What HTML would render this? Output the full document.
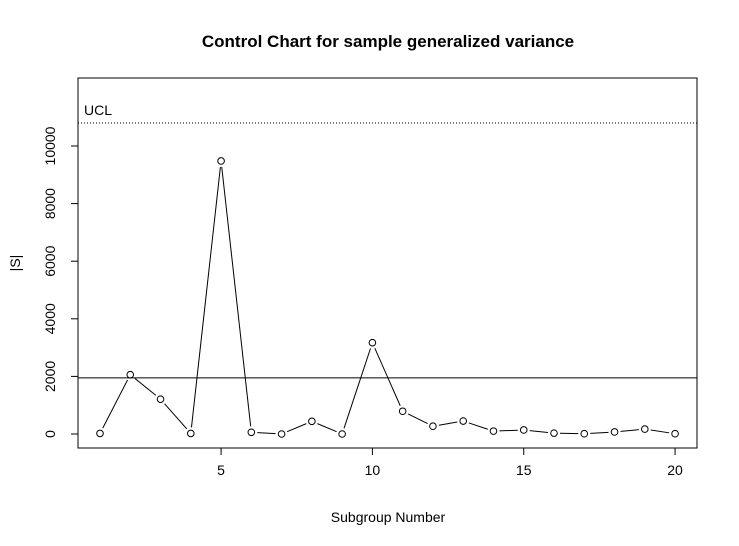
<!DOCTYPE html>
<html><head><meta charset="utf-8"><style>
body{margin:0;background:#fff;}
svg{display:block;font-family:"Liberation Sans",Arial,sans-serif;}
</style></head><body>
<svg id="chart" width="739" height="546" viewBox="0 0 739 546" xmlns="http://www.w3.org/2000/svg">
<rect width="739" height="546" fill="#fff"/>
<text x="388" y="47" text-anchor="middle" font-size="17" font-weight="bold">Control Chart for sample generalized variance</text>
<text x="388" y="522" text-anchor="middle" font-size="14">Subgroup Number</text>
<text transform="translate(20,263) rotate(-90)" text-anchor="middle" font-size="14">|S|</text>
<rect x="78" y="78" width="619" height="370" fill="none" stroke="#000"/>
<g id="g"></g>
</svg>
<script>
const subgroups=[1,2,3,4,5,6,7,8,9,10,11,12,13,14,15,16,17,18,19,20];
const values=[20,2060,1210,20,9480,60,0,440,0,3170,790,270,450,100,140,30,10,70,170,10];
const centerLine=1950;
const ucl=10800;
const xTicks=[5,10,15,20];
const yTicks=[0,2000,4000,6000,8000,10000];
const NS="http://www.w3.org/2000/svg";
const g=document.getElementById('g');
function xs(v){return 100+(v-1)*(675-221)/15;}
function ys(v){return 434-v*(434-146)/10000;}
function mk(t,a){const e=document.createElementNS(NS,t);for(const k in a)e.setAttribute(k,a[k]);g.appendChild(e);return e;}
xTicks.forEach(t=>{
 const l=mk('line',{x1:xs(t),x2:xs(t),y1:448,y2:455,stroke:'#000'});
 
 
 const tx=mk('text',{x:xs(t),y:475,'text-anchor':'middle','font-size':14});
 tx.textContent=t;
 
 
});
yTicks.forEach(t=>{
 const l=mk('line',{x1:71,x2:78,y1:ys(t),y2:ys(t),stroke:'#000'});
 
 
 const tx=mk('text',{transform:`translate(55,${ys(t)}) rotate(-90)`,'text-anchor':'middle','font-size':14});
 tx.textContent=t;
 
 
});
const cl=mk('line',{x1:78,x2:697,y1:ys(centerLine),y2:ys(centerLine),stroke:'#000'});


const ul=mk('line',{x1:78,x2:697,y1:ys(ucl),y2:ys(ucl),stroke:'#000','stroke-dasharray':'1,2'});


const ut=mk('text',{x:84,y:ys(ucl)-8,'font-size':14});
ut.textContent='UCL';


for(let i=0;i<values.length-1;i++){
 const x1=xs(subgroups[i]),y1=ys(values[i]),x2=xs(subgroups[i+1]),y2=ys(values[i+1]);
 const dx=x2-x1,dy=y2-y1,d=Math.hypot(dx,dy),gap=6;
 if(d>2*gap){
  const l=mk('line',{x1:x1+dx*gap/d,y1:y1+dy*gap/d,x2:x2-dx*gap/d,y2:y2-dy*gap/d,stroke:'#000'});
  
  
 }
}
values.forEach((v,i)=>{
 const c=mk('circle',{cx:xs(subgroups[i]),cy:ys(v),r:3.3,fill:'none',stroke:'#000'});
 
 
});
</script>
</body></html>
